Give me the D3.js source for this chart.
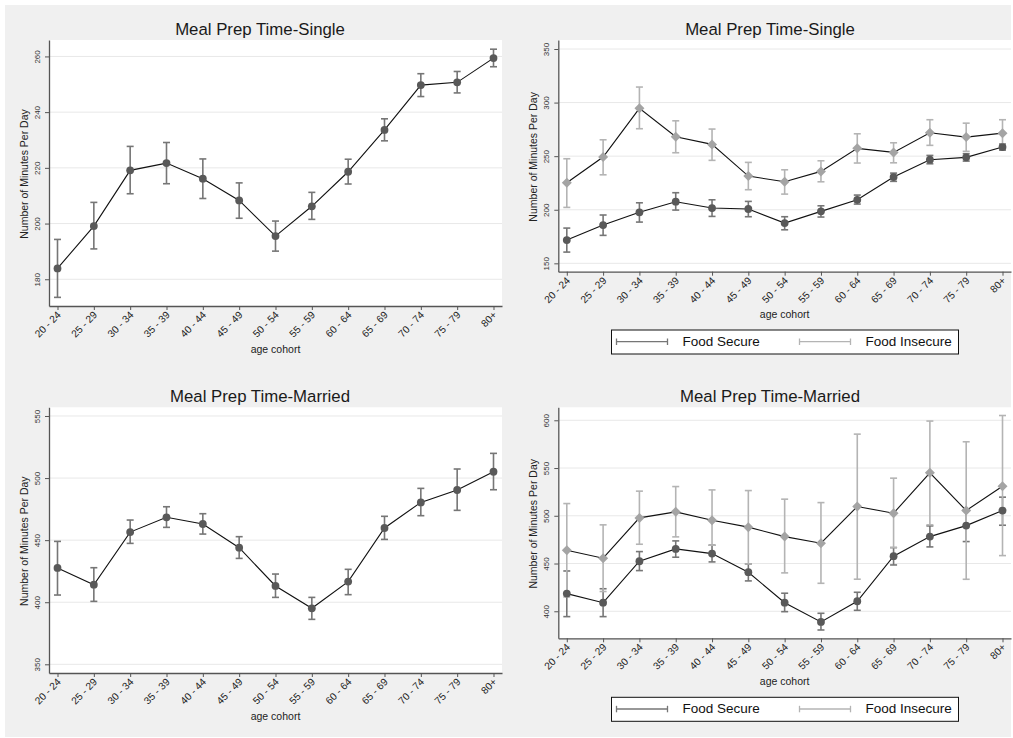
<!DOCTYPE html>
<html>
<head>
<meta charset="utf-8">
<script src="https://cdn.jsdelivr.net/npm/d3@7"></script>
<style>
  body { margin: 0; background: #fff; }
  svg { display: block; font-family: Arial, "Liberation Sans", sans-serif; }
</style>
</head>
<body>
<div id="container"></div>
<script>
const cohorts = ['20 - 24', '25 - 29', '30 - 34', '35 - 39', '40 - 44', '45 - 49', '50 - 54',
  '55 - 59', '60 - 64', '65 - 69', '70 - 74', '75 - 79', '80+'];

// single, all households
const singleMean = [183.9, 199.1, 219.1, 221.7, 216.1, 208.3, 195.5, 206.2, 218.6, 233.6, 249.7, 250.7, 259.4];
const singleHi = [194.3, 207.6, 227.7, 229.1, 223.2, 214.6, 200.9, 211.2, 223.1, 237.6, 253.8, 254.6, 262.6];
const singleLo = [173.5, 190.9, 210.7, 214.3, 209.0, 201.9, 190.1, 201.5, 214.2, 229.7, 245.6, 246.9, 256.3];

// single, by food security
const singleSecMean = [171.7, 185.7, 197.6, 207.5, 201.6, 200.7, 187.6, 198.5, 209.3, 230.5, 246.7, 248.9, 258.5];
const singleSecHi = [182.9, 195.1, 206.5, 215.9, 209.3, 207.8, 193.5, 203.7, 213.7, 234.2, 250.7, 252.3, 261.3];
const singleSecLo = [160.5, 176.1, 188.5, 199.7, 193.8, 193.5, 181.3, 193.2, 205.3, 226.5, 242.9, 245.4, 255.7];
const singleInsMean = [225.2, 249.2, 294.6, 268.1, 261.0, 231.4, 226.1, 235.8, 257.3, 253.5, 271.8, 267.8, 271.5];
const singleInsHi = [247.6, 265.3, 314.5, 283.0, 275.3, 244.2, 237.3, 245.7, 270.9, 262.5, 284.0, 280.8, 284.0];
const singleInsLo = [202.2, 232.6, 275.6, 253.2, 246.1, 218.7, 214.6, 226.1, 243.6, 243.8, 260.1, 254.5, 260.1];

// married, all households
const marriedMean = [427.6, 414.1, 456.5, 468.4, 463.0, 443.9, 413.1, 395.1, 416.6, 459.8, 480.4, 490.4, 505.1];
const marriedHi = [449.0, 427.8, 466.2, 476.9, 471.3, 452.8, 422.7, 403.9, 426.5, 469.2, 491.7, 507.3, 519.9];
const marriedLo = [405.8, 400.7, 447.4, 460.3, 454.9, 435.3, 403.9, 386.2, 406.1, 450.6, 469.7, 474.0, 490.6];

// married, by food security
const marriedSecMean = [418.5, 409.0, 452.4, 465.3, 460.4, 440.9, 409.0, 388.8, 410.5, 457.7, 478.2, 489.7, 505.5];
const marriedSecHi = [442.2, 423.6, 462.5, 473.7, 469.2, 449.6, 418.9, 397.9, 419.9, 466.7, 489.4, 506.4, 519.5];
const marriedSecLo = [394.4, 394.4, 442.6, 456.6, 451.7, 431.8, 399.6, 380.4, 401.0, 448.5, 467.4, 473.0, 490.1];
const marriedInsMean = [463.9, 455.6, 497.8, 504.1, 495.4, 488.1, 478.2, 471.3, 509.7, 502.7, 545.0, 505.5, 531.0];
const marriedInsHi = [512.8, 490.5, 525.8, 530.6, 527.1, 526.4, 517.4, 513.8, 585.5, 539.4, 599.2, 577.5, 605.0];
const marriedInsLo = [415.0, 420.7, 470.2, 477.9, 469.2, 449.6, 440.2, 429.3, 433.6, 466.7, 490.5, 433.5, 458.3];

const singleTicks = [180, 200, 220, 240, 260];
const singleFsTicks = [150, 200, 250, 300, 350];
const marriedTicks = [350, 400, 450, 500, 550];
const marriedFsTicks = [400, 450, 500, 550, 600];

const legendLabels = ['Food Secure', 'Food Insecure'];

const darkMarker = '#595959';
const darkBar = '#767676';
const lightMarker = '#a4a4a4';
const lightBar = '#b4b4b4';

const toRows = (mean, lo, hi) => cohorts.map((c, i) => ({ c, m: mean[i], lo: lo[i], hi: hi[i] }));

const svg = d3.select('#container').append('svg')
  .attr('width', 1013)
  .attr('height', 738);

svg.append('rect')
  .attr('x', 5).attr('y', 5)
  .attr('width', 1006).attr('height', 732)
  .attr('fill', '#f0f0f0');

function drawPanel(p) {
  const x = d3.scalePoint().domain(cohorts).range([p.left, p.right]).padding(0.234);
  const y = d3.scaleLinear().domain(p.yDomain).range([p.bottom, p.top]);
  const g = svg.append('g');

  g.append('rect')
    .attr('x', p.left).attr('y', p.top)
    .attr('width', p.right - p.left).attr('height', p.bottom - p.top)
    .attr('fill', '#fff');

  g.append('g').selectAll('line')
    .data(p.ticks).enter()
    .append('line')
    .attr('x1', p.left).attr('x2', p.right)
    .attr('y1', (d) => y(d)).attr('y2', (d) => y(d))
    .attr('stroke', '#e8e8e8')
    .attr('stroke-width', 1);

  const yAxis = g.append('g')
    .attr('transform', `translate(${p.left},0)`)
    .call(d3.axisLeft(y).tickValues(p.ticks).tickSize(4).tickSizeOuter(0));
  yAxis.selectAll('text')
    .attr('x', null).attr('dy', null)
    .attr('transform', 'translate(-9.5,0) rotate(-90)')
    .attr('text-anchor', 'middle')
    .style('font-size', '8px')
    .attr('fill', '#333');

  const xAxis = g.append('g')
    .attr('transform', `translate(0,${p.bottom})`)
    .call(d3.axisBottom(x).tickSize(4).tickSizeOuter(0));
  xAxis.selectAll('text')
    .attr('y', null).attr('dy', '0.35em')
    .attr('transform', 'translate(1,7) rotate(-45)')
    .attr('text-anchor', 'end')
    .style('font-size', '10.2px')
    .attr('fill', '#222');

  [yAxis, xAxis].forEach((a) => {
    a.select('.domain').attr('stroke', '#555').attr('stroke-width', 1.3);
    a.selectAll('.tick line').attr('stroke', '#555').attr('stroke-width', 1);
  });

  g.append('text')
    .attr('x', p.titleX).attr('y', p.titleY)
    .attr('text-anchor', 'middle')
    .style('font-size', '16.8px')
    .attr('fill', '#1a1a1a')
    .text(p.title);

  g.append('text')
    .attr('transform', `translate(${p.left - 21},${(p.top + p.bottom) / 2 + 1}) rotate(-90)`)
    .attr('text-anchor', 'middle')
    .style('font-size', '10.5px')
    .attr('fill', '#222')
    .text('Number of Minutes Per Day');

  g.append('text')
    .attr('x', (p.left + p.right) / 2).attr('y', p.xlabelY)
    .attr('text-anchor', 'middle')
    .style('font-size', '10.5px')
    .attr('fill', '#222')
    .text('age cohort');

  // error bars first, then connected lines and markers
  p.series.forEach((s) => {
    const bars = g.append('g').selectAll('g')
      .data(s.rows).enter()
      .append('g')
      .attr('stroke', s.bar)
      .attr('stroke-width', 1.6);
    bars.append('line')
      .attr('x1', (d) => x(d.c)).attr('x2', (d) => x(d.c))
      .attr('y1', (d) => y(d.lo)).attr('y2', (d) => y(d.hi));
    bars.append('line')
      .attr('x1', (d) => x(d.c) - 3.5).attr('x2', (d) => x(d.c) + 3.5)
      .attr('y1', (d) => y(d.lo)).attr('y2', (d) => y(d.lo));
    bars.append('line')
      .attr('x1', (d) => x(d.c) - 3.5).attr('x2', (d) => x(d.c) + 3.5)
      .attr('y1', (d) => y(d.hi)).attr('y2', (d) => y(d.hi));
  });

  p.series.forEach((s) => {
    g.append('path')
      .datum(s.rows)
      .attr('fill', 'none')
      .attr('stroke', '#111')
      .attr('stroke-width', 1.1)
      .attr('d', d3.line().x((d) => x(d.c)).y((d) => y(d.m)));

    if (s.shape === 'diamond') {
      g.append('g').selectAll('path')
        .data(s.rows).enter()
        .append('path')
        .attr('d', 'M0,-5L5,0L0,5L-5,0Z')
        .attr('transform', (d) => `translate(${x(d.c)},${y(d.m)})`)
        .attr('fill', s.marker);
    } else {
      g.append('g').selectAll('circle')
        .data(s.rows).enter()
        .append('circle')
        .attr('r', 3.9)
        .attr('cx', (d) => x(d.c))
        .attr('cy', (d) => y(d.m))
        .attr('fill', s.marker);
    }
  });

  if (p.legendY) {
    const lg = g.append('g').attr('transform', `translate(611.5,${p.legendY})`);
    lg.append('rect')
      .attr('width', 347).attr('height', 24)
      .attr('fill', '#fff')
      .attr('stroke', '#111')
      .attr('stroke-width', 1);
    const keys = [{ x: 5, col: darkBar }, { x: 188, col: lightBar }];
    keys.forEach((k, i) => {
      const kg = lg.append('g').attr('stroke', k.col).attr('stroke-width', 1.3);
      kg.append('line').attr('x1', k.x).attr('x2', k.x + 51).attr('y1', 11.7).attr('y2', 11.7);
      kg.append('line').attr('x1', k.x).attr('x2', k.x).attr('y1', 8.5).attr('y2', 15);
      kg.append('line').attr('x1', k.x + 51).attr('x2', k.x + 51).attr('y1', 8.5).attr('y2', 15);
      lg.append('text')
        .attr('x', k.x + 66).attr('y', 16)
        .style('font-size', '13.5px')
        .attr('fill', '#111')
        .text(legendLabels[i]);
    });
  }
}

drawPanel({
  title: 'Meal Prep Time-Single', titleX: 260, titleY: 34.5,
  left: 49, right: 502, top: 40, bottom: 306,
  yDomain: [170.4, 265.9], ticks: singleTicks, xlabelY: 352.5,
  series: [{ rows: toRows(singleMean, singleLo, singleHi), marker: darkMarker, bar: darkBar, shape: 'circle' }]
});

drawPanel({
  title: 'Meal Prep Time-Single', titleX: 770, titleY: 34.5,
  left: 558.3, right: 1011, top: 40, bottom: 271.7,
  yDomain: [142.2, 358.4], ticks: singleFsTicks, xlabelY: 318, legendY: 330,
  series: [
    { rows: toRows(singleSecMean, singleSecLo, singleSecHi), marker: darkMarker, bar: darkBar, shape: 'circle' },
    { rows: toRows(singleInsMean, singleInsLo, singleInsHi), marker: lightMarker, bar: lightBar, shape: 'diamond' }
  ]
});

drawPanel({
  title: 'Meal Prep Time-Married', titleX: 260, titleY: 401.7,
  left: 49, right: 502, top: 407.3, bottom: 673,
  yDomain: [343.0, 557.0], ticks: marriedTicks, xlabelY: 719.5,
  series: [{ rows: toRows(marriedMean, marriedLo, marriedHi), marker: darkMarker, bar: darkBar, shape: 'circle' }]
});

drawPanel({
  title: 'Meal Prep Time-Married', titleX: 770, titleY: 401.7,
  left: 558.3, right: 1011, top: 407.3, bottom: 638.3,
  yDomain: [371.7, 613.6], ticks: marriedFsTicks, xlabelY: 685, legendY: 697.3,
  series: [
    { rows: toRows(marriedSecMean, marriedSecLo, marriedSecHi), marker: darkMarker, bar: darkBar, shape: 'circle' },
    { rows: toRows(marriedInsMean, marriedInsLo, marriedInsHi), marker: lightMarker, bar: lightBar, shape: 'diamond' }
  ]
});
</script>
</body>
</html>
